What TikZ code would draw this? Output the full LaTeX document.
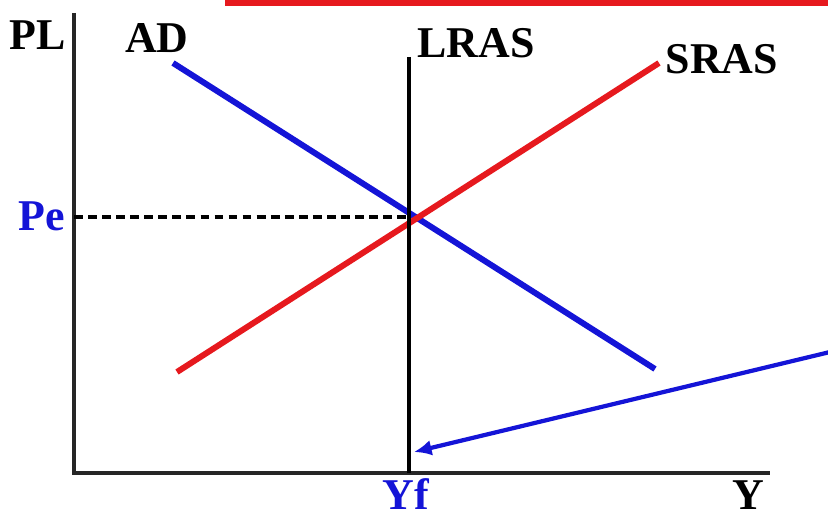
\documentclass[tikz,border=0pt]{standalone}
\usepackage{fontspec}
\setmainfont{Liberation Serif}
\usetikzlibrary{arrows.meta,positioning}
\definecolor{adblue}{RGB}{20,20,215}
\definecolor{asred}{RGB}{230,25,30}

\begin{document}
\begin{tikzpicture}[x=0.02cm,y=-0.02cm,
 lbl/.style={font=\bfseries\fontsize{25}{25}\selectfont,inner sep=0pt},
 axis/.style={line width=2pt,black!85},
 curve/.style={line width=3.4pt},>={Latex[length=10pt,width=9pt]}]
\useasboundingbox (0,0) rectangle (828,520);
% axes
\coordinate (top) at (74,13);
\coordinate (o) at (74,473);
\coordinate (xend) at (770,473);
\draw[axis] (top) -- (o) -- (xend);
\draw[asred,line width=4pt] (225,2) -- (828,2);
\node[lbl] (pl) at (38,35) {PL};
\node[lbl] (y) at (748,495) {Y};
% curves
\coordinate (ad1) at (173,63);
\coordinate (ad2) at (655,369);
\coordinate (sr1) at (177,372);
\coordinate (sr2) at (659,63);
\coordinate (lr1) at (409,57);
\coordinate (lr2) at (409,473);
\coordinate (eq) at (409,217);
\draw[curve,adblue] (ad1) -- (ad2);
\draw[curve,asred] (sr1) -- (sr2);
\draw[line width=2.4pt] (lr1) -- (lr2);
\node[lbl] (ad) at (157,38) {AD};
\node[lbl] (lras) at (476,43) {LRAS};
\node[lbl] (sras) at (722,59) {SRAS};
% equilibrium
\node[lbl,adblue] (pe) at (42,216) {Pe};
\node[lbl,adblue] (yf) at (406,494) {Yf};
\draw[line width=2.3pt,dash pattern=on 5pt off 3pt] (o|-eq) -- (eq);
\coordinate (src) at (830,352);
\draw[->,adblue,line width=2.4pt] (src) -- (414,452);
\end{tikzpicture}
\end{document}
